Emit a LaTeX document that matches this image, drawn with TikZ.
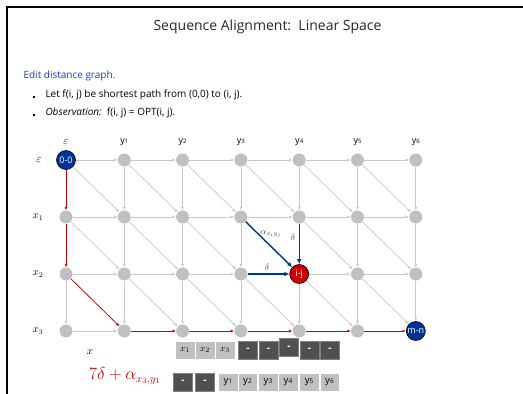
\documentclass[tikz,border=0pt]{standalone}
\usepackage{fontspec}
\setmainfont{Open Sans}
\usetikzlibrary{arrows.meta}
\definecolor{gnode}{RGB}{192,192,192}
\definecolor{gedge}{RGB}{200,200,200}
\definecolor{myblue}{RGB}{0,51,153}
\definecolor{myred}{RGB}{204,0,0}
\definecolor{txtblue}{RGB}{20,60,190}
\definecolor{dbox}{RGB}{80,80,80}
\definecolor{lbox}{RGB}{192,192,192}
\definecolor{lblgray}{RGB}{70,70,70}
\begin{document}
\begin{tikzpicture}[x=1pt,y=-1pt,
  gn/.style={circle,fill=gnode,minimum size=13pt,inner sep=0},
  sn/.style={circle,draw=black,line width=0.6pt,minimum size=19pt,inner sep=0,text=white,font=\fontsize{9}{9}\selectfont},
  ge/.style={draw=gedge,line width=0.7pt,-{Latex[length=3.5pt,width=3pt]}},
  re/.style={draw=myred,line width=0.8pt,-{Latex[length=3.5pt,width=3pt]}},
  be/.style={draw=myblue,line width=1.4pt,-{Latex[length=5pt,width=4.5pt]}},
  lbl/.style={font=\fontsize{9}{9}\selectfont},
  rlbl/.style={font=\fontsize{10.5}{10.5}\selectfont},
  bul/.style={fill=black,minimum size=2pt,inner sep=0},
  db/.style={fill=dbox,draw=gray,line width=0.5pt,minimum width=19pt,minimum height=18pt,inner sep=0,text=white,font=\bfseries\fontsize{10}{10}\selectfont},
  lb/.style={fill=lbox,draw=white,line width=0.4pt,minimum width=19.5pt,minimum height=18pt,inner sep=0,font=\fontsize{9.5}{9.5}\selectfont},
  body/.style={anchor=west,font=\fontsize{10}{12}\selectfont}]
\useasboundingbox (0,0) rectangle (523,394);
\draw[line width=2pt] (7,394) -- (7,7) -- (523,7);
% text
\node[font=\fontsize{14}{16}\selectfont,text=black!85] (title) at (267.5,27) {Sequence Alignment:\ \ Linear Space};
\node[body,text=txtblue] (edit) at (20,76) {Edit distance graph.};
\node[bul] (b1) at (34,97) {};
\node[bul] (b2) at (34,115) {};
\node[body] (l1) at (42,95) {Let f(i, j) be shortest path from (0,0) to (i, j).};
\node[body] (l2) at (42,113) {\textit{Observation:}\ \ f(i, j) = OPT(i, j).};
% grid nodes
\foreach \i in {0,...,3}
  \foreach \j in {0,...,6}
    \node[gn] (n\i\j) at ({66+58.3*\j},{160+57*\i}) {};
\node[sn,fill=myblue] (n00) at (n00) {0-0};
\node[sn,fill=myred] (n24) at (n24) {i-j};
\node[sn,fill=myblue] (n36) at (n36) {m-n};
% gray edges
\foreach \i in {0,...,3}
  \foreach \j in {0,...,5} {
    \pgfmathtruncatemacro\nj{\j+1}
    \pgfmathtruncatemacro\myskip{(\i==3 && \j>0) || (\i==2 && \j==3)}
    \ifnum\myskip=0 \draw[ge] (n\i\j) -- (n\i\nj); \fi
  }
\foreach \i in {0,...,2}
  \foreach \j in {0,...,6} {
    \pgfmathtruncatemacro\ni{\i+1}
    \pgfmathtruncatemacro\myskip{(\j==0 && \i<2) || (\i==1 && \j==4)}
    \ifnum\myskip=0 \draw[ge] (n\i\j) -- (n\ni\j); \fi
  }
\foreach \i in {0,...,2}
  \foreach \j in {0,...,5} {
    \pgfmathtruncatemacro\ni{\i+1}
    \pgfmathtruncatemacro\nj{\j+1}
    \pgfmathtruncatemacro\myskip{(\i==2 && \j==0) || (\i==1 && \j==3)}
    \ifnum\myskip=0 \draw[ge] (n\i\j) -- (n\ni\nj); \fi
  }
% red path
\draw[re] (n00) -- (n10);
\draw[re] (n10) -- (n20);
\draw[re] (n20) -- (n31);
\foreach \j/\jj in {1/2,2/3,3/4,4/5,5/6} \draw[re] (n3\j) -- (n3\jj);
% blue edges
\draw[be] (n13) -- (n24);
\draw[be] (n14) -- (n24);
\draw[be] (n23) -- (n24);
\node[text=lblgray,font=\fontsize{9}{9}\selectfont] (alab) at (271,234) {$\alpha_{x_i y_j}$};
\node[text=lblgray,font=\fontsize{9}{9}\selectfont] (d1) at (293,237) {$\delta$};
\node[text=lblgray,font=\fontsize{9}{9}\selectfont] (d2) at (267,267) {$\delta$};
% column labels
\node[rlbl] (ce) at (66,142) {$\varepsilon$};
\foreach \j in {1,...,6}
  \node[lbl] (c\j) at ({66+58.3*\j},142) {y{\fontsize{6}{6}\selectfont\j}};
% row labels
\node[rlbl] (re0) at (39,160) {$\varepsilon$};
\foreach \i in {1,2,3}
  \node[rlbl] (r\i) at (38,{160+57*\i}) {$x_{\i}$};
% bottom
\node[font=\fontsize{11}{11}\selectfont] (xx) at (90,352) {$x$};
\node[text=myred,font=\fontsize{16}{16}\selectfont] (cost) at (125,376) {$7\delta + \alpha_{x_3,y_1}$};
\node[lb] (t1) at (185,350) {$x_1$};
\node[lb] (t2) at (205,350) {$x_2$};
\node[lb] (t3) at (225,350) {$x_3$};
\node[db] (t4) at (248,350) {-};
\node[db] (t5) at (268.5,350) {-};
\node[db] (t6) at (289,347.5) {-};
\node[db] (t7) at (309.5,350) {-};
\node[db] (t8) at (330,350) {-};
\node[db] (u1) at (183,382) {-};
\node[db] (u2) at (205,382) {-};
\foreach \j/\xx in {1/228,2/247.5,3/268,4/288,5/309,6/329.5}
  \node[lb] (u\j y) at (\xx,382) {y{\fontsize{6.5}{6.5}\selectfont\j}};
\end{tikzpicture}
\end{document}
